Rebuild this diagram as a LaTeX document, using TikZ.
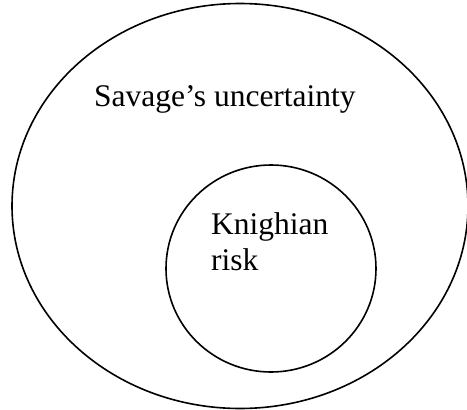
\documentclass[tikz,border=0pt]{standalone}
\usepackage{fontspec}
\setmainfont{Liberation Serif}
\usetikzlibrary{shapes.geometric}
\begin{document}
\begin{tikzpicture}[x=1pt,y=-1pt,
  ring/.style={draw,ellipse,line width=1.6pt,inner sep=0pt},
  lbl/.style={anchor=base west,inner sep=0pt,font=\fontsize{31.5}{36}\selectfont,align=left}]
\useasboundingbox (0,0) rectangle (467,410);
\node[ring,minimum width=456pt,minimum height=405pt] (outer) at (240,206) {};
\node[ring,minimum width=210pt,minimum height=207pt] (inner) at (271,268.5) {};
\node[lbl] (sav) at (94,106) {Savage’s uncertainty};
\node[lbl] (kn) at (211,234) {Knighian};
\node[lbl] (risk) at (211,270) {risk};
\end{tikzpicture}
\end{document}
